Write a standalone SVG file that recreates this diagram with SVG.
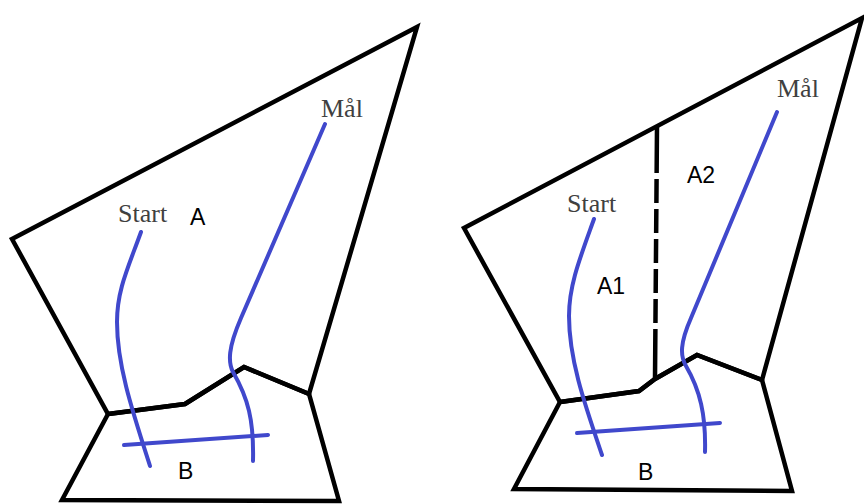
<svg xmlns="http://www.w3.org/2000/svg" width="864" height="504" viewBox="0 0 864 504">
<style>
.edge{fill:none;stroke:#000;stroke-width:4.5;stroke-linejoin:miter;stroke-linecap:butt}
.path{fill:none;stroke:#4048cc;stroke-width:4;stroke-linecap:round;stroke-linejoin:round}
.lbl{font-family:"Liberation Serif","Times New Roman",serif;font-size:26px;fill:#404040}
.area{font-family:"Liberation Sans",Arial,sans-serif;font-size:23px;fill:#000}
</style>
<rect width="864" height="504" fill="#fff"/>
<g id="left">
  <g id="left-regions">
    <polygon class="edge" points="12,239 417,27 309,394 244,367 185,404 108,414"/>
    <polygon class="edge" points="108,414 185,404 244,367 309,394 339,501 62,500"/>
  </g>
  <g id="left-paths">
    <path class="path" d="M141,232 C128,268 117,290 117,322 C117,365 132,410 150,466"/>
    <path class="path" d="M325,124 L241,318 C228,348 228,362 233,372 C248,398 254,420 253,461"/>
    <path class="path" d="M124,445 L268,435"/>
  </g>
  <g id="left-labels">
    <text class="lbl" x="321" y="117">Mål</text>
    <text class="lbl" x="118" y="222">Start</text>
    <text class="area" x="190" y="225">A</text>
    <text class="area" x="178" y="479">B</text>
  </g>
</g>
<g id="right">
  <g id="right-regions">
    <polygon class="edge" points="464,228 862,18 762,380 697,355 655,379 639,391 560,402"/>
    <polygon class="edge" points="560,402 639,391 655,379 697,355 762,380 792,491 514,489"/>
    <path class="edge" d="M657,126 L655,379" stroke-width="5" stroke-dasharray="47 6 24 6 24 6 24 6 24 6 24 6 60"/>
  </g>
  <g id="right-paths">
    <path class="path" d="M594,219 C580,258 569,285 569,316 C569,360 585,405 602,455"/>
    <path class="path" d="M777,112 L691,318 C680,343 680,356 686,366 C700,390 706,415 705,452"/>
    <path class="path" d="M577,433 L720,423"/>
  </g>
  <g id="right-labels">
    <text class="lbl" x="777" y="97">Mål</text>
    <text class="lbl" x="567" y="212">Start</text>
    <text class="area" x="687" y="183">A2</text>
    <text class="area" x="597" y="294">A1</text>
    <text class="area" x="638" y="480">B</text>
  </g>
</g>
</svg>
